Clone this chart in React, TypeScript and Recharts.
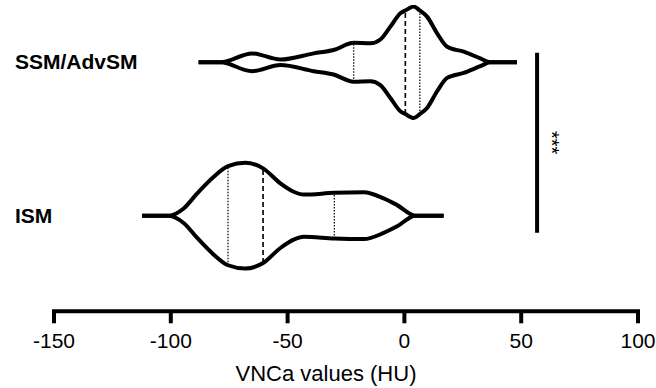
import { ComposedChart, Line, XAxis, YAxis, ReferenceLine } from 'recharts';

const FONT = '"Liberation Sans", Arial, sans-serif';

// y position 1 = ISM, 2 = SSM/AdvSM
const CATEGORIES = ['ISM', 'SSM/AdvSM'];

const SSM_VALUES = [-88.1, -78.8, -65.2, -53.1, -38.8, -30.3, -21.7, -14.6, -10.3, -6.0, -1.7, 0.4, 4.0, 6.6, 9.7, 14.0, 18.3, 25.4, 32.5, 36.8, 48.2];
const SSM_DENSITY = [0, 0, 0.16, 0.05, 0.16, 0.22, 0.35, 0.34, 0.41, 0.64, 0.88, 0.93, 1.0, 0.93, 0.82, 0.52, 0.28, 0.19, 0.07, 0, 0];
const SSM_QUARTILES = [-21.7, 0.4, 6.6]; // q1, median, q3

const ISM_VALUES = [-112.3, -100.9, -94.5, -88.7, -81.6, -75.5, -68.1, -60.5, -53.1, -47.4, -43.1, -30.0, -17.4, -8.9, -3.1, 4.7, 16.8];
const ISM_DENSITY = [0, 0, 0.13, 0.4, 0.7, 0.89, 0.95, 0.85, 0.58, 0.43, 0.38, 0.41, 0.42, 0.31, 0.19, 0, 0];
const ISM_QUARTILES = [-75.5, -60.5, -30.0];

const X_TICKS = [-150, -100, -50, 0, 50, 100];

// significance bracket
const SIG_X = 56.8;
const SIG_SPAN = [0.889, 2.063];
const SIG_TEXT = '***';

const HALF_WIDTH = 0.363; // density 1 -> half violin height, in category units

const outline = (values: number[], density: number[], center: number, sign: number) =>
  values.map((v, i) => ({ x: v, y: center + sign * density[i] * HALF_WIDTH }));

const violins = [
  { name: 'ssm', center: 2, values: SSM_VALUES, density: SSM_DENSITY, quart: SSM_QUARTILES },
  { name: 'ism', center: 1, values: ISM_VALUES, density: ISM_DENSITY, quart: ISM_QUARTILES },
];

const CategoryTick = (props: any) => {
  const { y, payload } = props;
  return (
    <text x={15} y={y + 7} fontSize={21} fontWeight="bold" fontFamily={FONT} fill="#000" textAnchor="start">
      {CATEGORIES[payload.value - 1]}
    </text>
  );
};

export default function App() {
  return (
    <div style={{ position: 'absolute', left: 0, top: 0 }}>
      <ComposedChart width={656} height={388} margin={{ top: 5, right: 18, bottom: 0, left: 0 }}>
        <XAxis
          type="number"
          dataKey="x"
          domain={[-150, 100]}
          ticks={X_TICKS}
          allowDataOverflow
          height={76.7}
          axisLine={{ stroke: '#000', strokeWidth: 4, strokeLinecap: 'square' }}
          tickLine={{ stroke: '#000', strokeWidth: 4 }}
          tickSize={12}
          tickMargin={10}
          tick={{ fill: '#000', fontSize: 21, fontFamily: FONT }}
          label={(p: any) => (
            <text
              x={p.viewBox.x + p.viewBox.width / 2 - 20}
              y={381}
              textAnchor="middle"
              fontSize={22}
              fontFamily={FONT}
              fill="#000"
            >
              VNCa values (HU)
            </text>
          )}
        />
        <YAxis
          type="number"
          dataKey="y"
          domain={[0.3768, 2.3735]}
          allowDataOverflow
          ticks={[1, 2]}
          width={54}
          axisLine={false}
          tickLine={false}
          tick={<CategoryTick />}
        />
        {violins.map((v) =>
          v.quart.map((q, qi) => {
            const d = v.density[v.values.indexOf(q)] * HALF_WIDTH;
            return (
              <ReferenceLine
                key={`${v.name}-q${qi}`}
                segment={[{ x: q, y: v.center - d }, { x: q, y: v.center + d }]}
                stroke="#000"
                strokeWidth={qi === 1 ? 1.6 : 1.2}
                strokeDasharray={qi === 1 ? '5 3' : '1.5 1.5'}
              />
            );
          })
        )}
        {violins.map((v) => (
          <Line
            key={`${v.name}-up`}
            data={outline(v.values, v.density, v.center, 1)}
            dataKey="y"
            type="monotone"
            stroke="#000"
            strokeWidth={4}
            dot={false}
            activeDot={false}
            isAnimationActive={false}
          />
        ))}
        {violins.map((v) => (
          <Line
            key={`${v.name}-lo`}
            data={outline(v.values, v.density, v.center, -1)}
            dataKey="y"
            type="monotone"
            stroke="#000"
            strokeWidth={4}
            dot={false}
            activeDot={false}
            isAnimationActive={false}
          />
        ))}
        <ReferenceLine
          segment={[{ x: SIG_X, y: SIG_SPAN[0] }, { x: SIG_X, y: SIG_SPAN[1] }]}
          stroke="#000"
          strokeWidth={4}
          label={(p: any) => {
            const vb = p.viewBox;
            const cx = vb.x + 7.5;
            const cy = vb.y + vb.height / 2;
            return (
              <text
                x={cx}
                y={cy}
                transform={`rotate(90, ${cx}, ${cy})`}
                textAnchor="middle"
                fontSize={20}
                fontFamily={FONT}
                fill="#000"
              >
                {SIG_TEXT}
              </text>
            );
          }}
        />
      </ComposedChart>
    </div>
  );
}
